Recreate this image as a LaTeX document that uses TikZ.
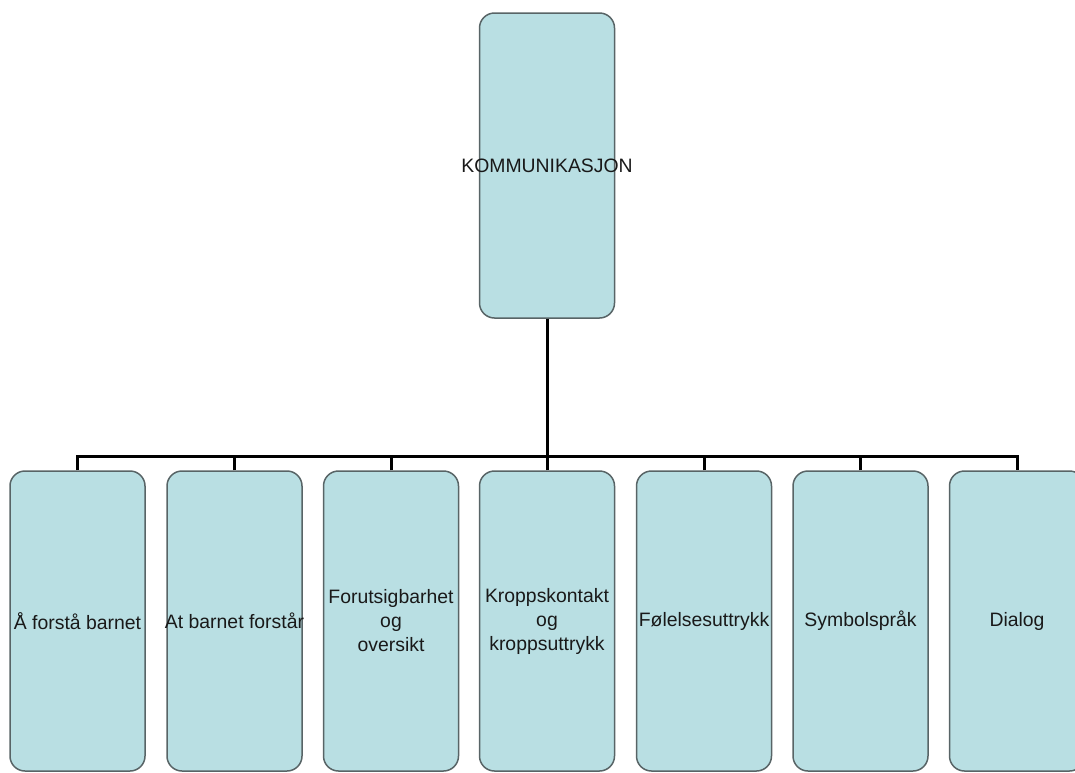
\documentclass[tikz,border=0pt]{standalone}
\usepackage{fontspec}
\setmainfont{Liberation Sans}
\definecolor{boxfill}{RGB}{185,223,227}
\definecolor{boxline}{RGB}{88,100,102}
\definecolor{txt}{RGB}{25,25,25}
% label that may run past the box edges without widening the box
\newcommand{\wide}[1]{\makebox[0pt][c]{#1}}
\tikzset{
  card/.style={draw=boxline, fill=boxfill, line width=1.5pt, rounded corners=15pt,
    minimum width=135pt, inner sep=0pt, align=center, text=txt,
    font=\fontsize{19.4}{24}\selectfont},
  topcard/.style={card, minimum height=305pt},
  subcard/.style={card, minimum height=300pt},
  link/.style={draw=black, line width=3pt, line join=miter}
}
\begin{document}
\begin{tikzpicture}[x=1pt,y=-1pt]
  \useasboundingbox (0,0) rectangle (1075,772);

  % root
  \node[topcard] (top) at (547,165.5) {\wide{KOMMUNIKASJON}};

  % children
  \node[subcard] (b1) at (77.5,621)  {\wide{Å forstå barnet}};
  \node[subcard] (b2) at (234.5,621) {\wide{At barnet forstår}};
  \node[subcard] (b3) at (391,621)   {\wide{Forutsigbarhet}\\og\\oversikt};
  \node[subcard] (b4) at (547,621)   {\wide{Kroppskontakt}\\og\\\wide{kroppsuttrykk}};
  \node[subcard] (b5) at (704,621)   {\wide{Følelsesuttrykk}};
  \node[subcard] (b6) at (860.5,621) {\wide{Symbolspråk}};
  \node[subcard] (b7) at (1017,621)  {\wide{Dialog}};

  % bus line
  \coordinate (bus) at (547,456);
  \draw[link] (top.south) -- (bus);
  \draw[link] (b1.north) -- (b1.north |- bus) -- (b7.north |- bus) -- (b7.north);
  \foreach \b in {b2,b3,b4,b5,b6}
    \draw[link] (\b.north) -- (\b.north |- bus);
\end{tikzpicture}
\end{document}
